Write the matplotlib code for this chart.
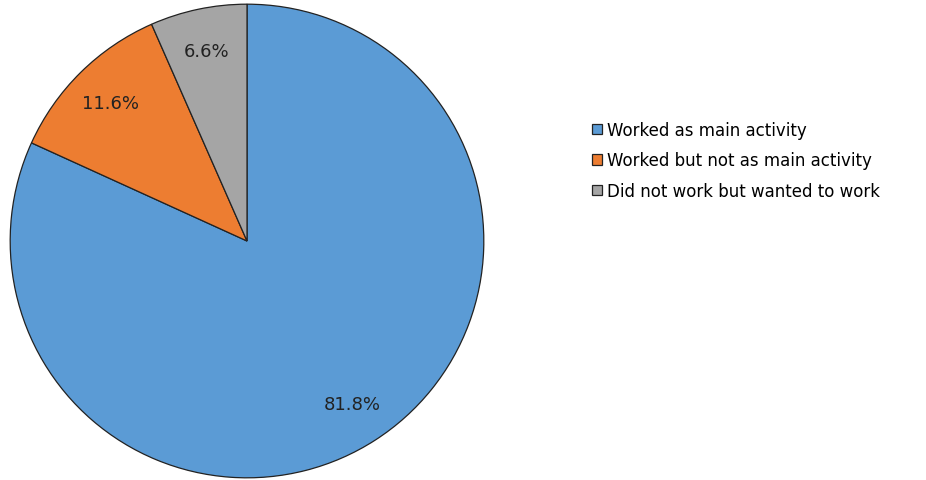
import matplotlib.pyplot as plt

labels = ['Worked as main activity', 'Worked but not as main activity',
          'Did not work but wanted to work']
shares = [81.8, 11.6, 6.6]
colors = ['#5B9BD5', '#ED7D31', '#A5A5A5']

W, H = 926, 481
fig = plt.figure(figsize=(W / 100, H / 100), dpi=100)

cx, cy, r = 247, 242, 238
ax = fig.add_axes([(cx - r) / W, (H - cy - r) / H, 2 * r / W, 2 * r / H])

wedges, texts, autotexts = ax.pie(
    shares, colors=colors, startangle=90, counterclock=False,
    autopct='%.1f%%', pctdistance=0.82,
    wedgeprops={'edgecolor': '#222222', 'linewidth': 0.9},
    textprops={'fontsize': 13, 'color': '#222222'})
ax.set_xlim(-1.005, 1.005)
ax.set_ylim(-1.005, 1.005)

fig.legend(wedges, labels, loc='upper left', bbox_to_anchor=(585 / W, 1 - 115 / H),
           frameon=False, fontsize=12, handlelength=0.6, handleheight=0.6,
           handletextpad=0.3, labelspacing=0.75, borderaxespad=0)

fig.savefig('out.png', dpi=100)
